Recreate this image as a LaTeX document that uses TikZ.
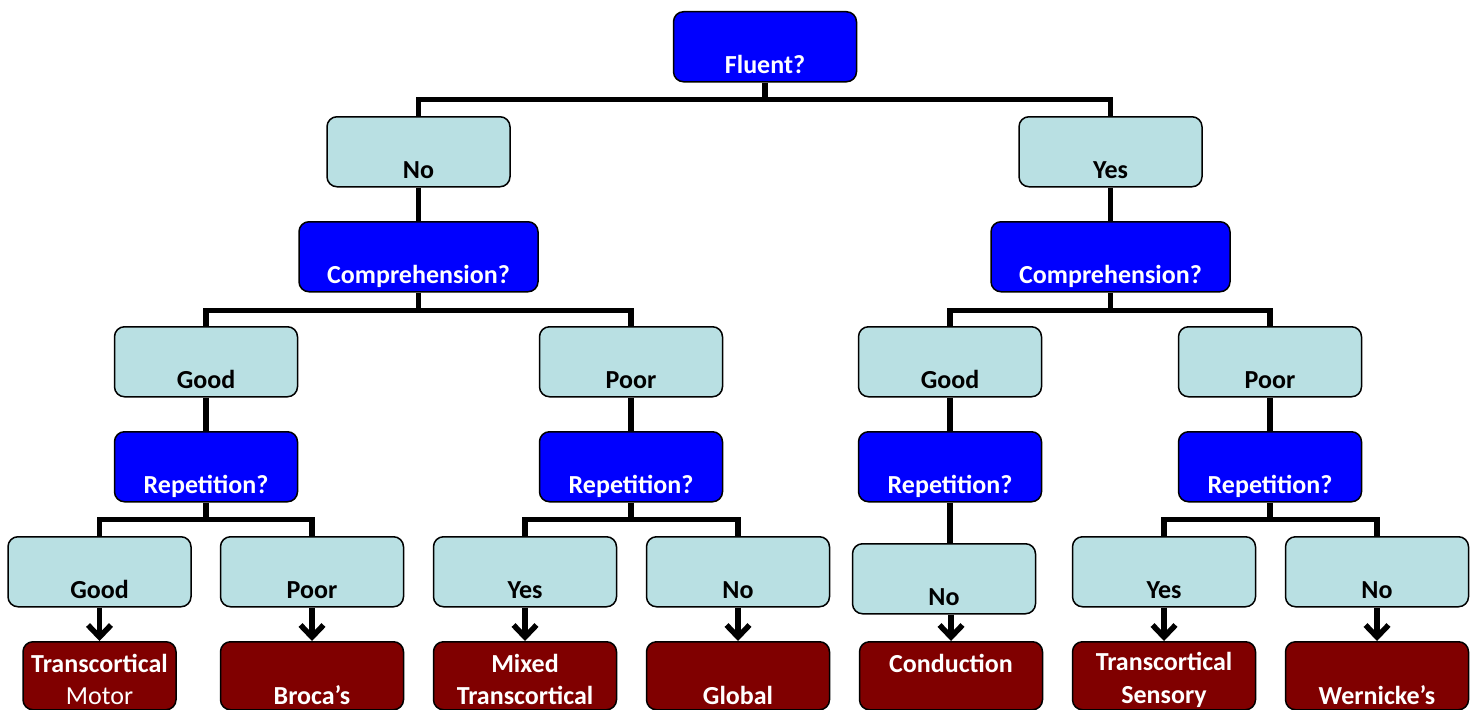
\documentclass[tikz,border=0pt]{standalone}
\usepackage{fontspec}
\setmainfont{Carlito}
\usepackage{tikz}
\usetikzlibrary{arrows.meta}

\definecolor{ansblue}{HTML}{B9E0E3}
\definecolor{resred}{HTML}{800000}
\newcommand\lnstrut{\rule[-2pt]{0pt}{29pt}}

\begin{document}
\begin{tikzpicture}[x=1pt,y=-1pt,
  box/.style={rectangle,rounded corners=10pt,draw=black,line width=1.5pt,minimum width=183pt,minimum height=70pt,inner sep=0pt,text height=62pt,text depth=8pt,anchor=north,font=\bfseries\fontsize{26}{32.5}\selectfont},
  answer/.style={box,fill=ansblue,text=black},
  question/.style={box,fill=blue,text=white},
  result/.style={rectangle,rounded corners=10pt,draw=black,line width=1.5pt,fill=resred,text=white,minimum width=183pt,minimum height=68pt,inner sep=0pt,align=center,anchor=north,font=\bfseries\fontsize{26}{32.5}\selectfont},
  link/.style={line width=5.5pt,line join=miter},
  arr/.style={line width=5.5pt,-{Straight Barb[length=12pt,width=23pt,sharp]}}]
  \useasboundingbox (0,0) rectangle (1479,709);

  % questions and answers
  \node[question] (fluent) at (765,11) {Fluent?};
  \node[answer] (no) at (418.5,116) {No};
  \node[answer] (yes) at (1110.5,116) {Yes};
  \node[question,minimum width=239pt] (compL) at (418.5,221) {Comprehension?};
  \node[question,minimum width=239pt] (compR) at (1110.5,221) {Comprehension?};
  \node[answer] (goodA) at (206,326) {Good};
  \node[answer] (poorA) at (631,326) {Poor};
  \node[answer] (goodB) at (950,326) {Good};
  \node[answer] (poorB) at (1270,326) {Poor};
  \node[question] (repA) at (206,431) {Repetition?};
  \node[question] (repB) at (631,431) {Repetition?};
  \node[question] (repC) at (950,431) {Repetition?};
  \node[question] (repD) at (1270,431) {Repetition?};
  \node[answer] (goodAA) at (99.5,536) {Good};
  \node[answer] (poorAA) at (312,536) {Poor};
  \node[answer] (yesB) at (525,536) {Yes};
  \node[answer] (noB) at (738,536) {No};
  \node[answer] (noC) at (944,543) {No};
  \node[answer] (yesD) at (1164,536) {Yes};
  \node[answer] (noD) at (1377,536) {No};

  % aphasia types
  \node[result,minimum width=153pt] (tmotor) at (99.5,641) {\lnstrut Transcortical\\\lnstrut{\mdseries Motor}};
  \node[result] (broca) at (312,641) {\lnstrut\\\lnstrut Broca’s};
  \node[result] (mixed) at (525,641) {\lnstrut Mixed\\\lnstrut Transcortical};
  \node[result] (global) at (738,641) {\lnstrut\\\lnstrut Global};
  \node[result] (conduction) at (951,641) {\lnstrut Conduction\\\lnstrut};
  \node[result] (tsensory) at (1164,641) {\lnstrut Transcortical\\\lnstrut Sensory};
  \node[result] (wernicke) at (1377,641) {\lnstrut\\\lnstrut Wernicke’s};

  % tree lines
  \draw[link] (fluent.south) -- ++(0,17) coordinate (j0);
  \draw[link] (no.north) |- (j0) -| (yes.north);
  \draw[link] (no.south) -- (compL.north);
  \draw[link] (yes.south) -- (compR.north);
  \draw[link] (compL.south) -- ++(0,18) coordinate (j1);
  \draw[link] (goodA.north) |- (j1) -| (poorA.north);
  \draw[link] (compR.south) -- ++(0,18) coordinate (j2);
  \draw[link] (goodB.north) |- (j2) -| (poorB.north);
  \draw[link] (goodA.south) -- (repA.north);
  \draw[link] (poorA.south) -- (repB.north);
  \draw[link] (goodB.south) -- (repC.north);
  \draw[link] (poorB.south) -- (repD.north);
  \draw[link] (repA.south) -- ++(0,17) coordinate (j3);
  \draw[link] (goodAA.north) |- (j3) -| (poorAA.north);
  \draw[link] (repB.south) -- ++(0,17) coordinate (j4);
  \draw[link] (yesB.north) |- (j4) -| (noB.north);
  \draw[link] (repC.south) -- (repC.south |- noC.north);
  \draw[link] (repD.south) -- ++(0,17) coordinate (j5);
  \draw[link] (yesD.north) |- (j5) -| (noD.north);

  % arrows to results
  \draw[arr] (goodAA.south) -- (tmotor.north);
  \draw[arr] (poorAA.south) -- (broca.north);
  \draw[arr] (yesB.south) -- (mixed.north);
  \draw[arr] (noB.south) -- (global.north);
  \draw[arr] (conduction.north |- noC.south) -- (conduction.north);
  \draw[arr] (yesD.south) -- (tsensory.north);
  \draw[arr] (noD.south) -- (wernicke.north);
\end{tikzpicture}
\end{document}
